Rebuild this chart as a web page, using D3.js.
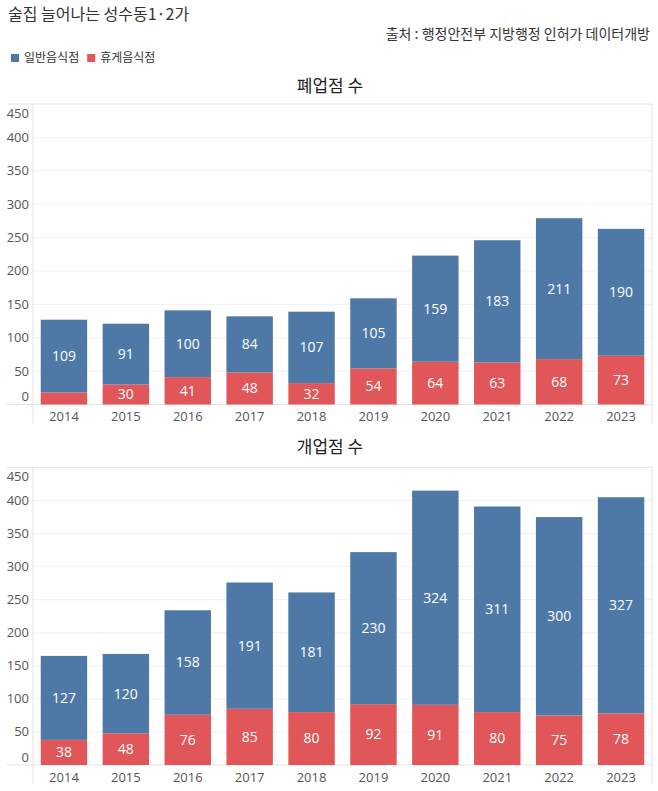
<!DOCTYPE html>
<html>
<head>
<meta charset="utf-8">
<script src="https://cdn.jsdelivr.net/npm/d3@7"></script>
<style>
  body { margin: 0; background: #fff; }
  svg text { font-family: "Noto Sans CJK KR", "Noto Sans", sans-serif; }
  .num { font-family: "Open Sans", "Noto Sans", sans-serif; }
</style>
</head>
<body>
<div id="chart"></div>
<script>
const years = ["2014","2015","2016","2017","2018","2019","2020","2021","2022","2023"];
const seriesNames = ["일반음식점", "휴게음식점"];
const closedGeneral = [109, 91, 100, 84, 107, 105, 159, 183, 211, 190];
const closedRest    = [18, 30, 41, 48, 32, 54, 64, 63, 68, 73];
const openedGeneral = [127, 120, 158, 191, 181, 230, 324, 311, 300, 327];
const openedRest    = [38, 48, 76, 85, 80, 92, 91, 80, 75, 78];
const yTicks = [0, 50, 100, 150, 200, 250, 300, 350, 400, 450];

const width = 658, height = 791;
const colors = { "일반음식점": "#4e79a7", "휴게음식점": "#e15759" };

const svg = d3.select("#chart").append("svg")
  .attr("width", width)
  .attr("height", height);

// header
svg.append("text")
  .attr("x", 8).attr("y", 20)
  .attr("font-size", 16).attr("fill", "#333")
  .text("술집 늘어나는 성수동1·2가");

svg.append("text")
  .attr("x", 650).attr("y", 39)
  .attr("text-anchor", "end")
  .attr("font-size", 14).attr("fill", "#333")
  .text("출처 : 행정안전부 지방행정 인허가 데이터개방");

// legend
const legend = svg.append("g").attr("transform", "translate(11,54)");
let lx = 0;
seriesNames.forEach(name => {
  legend.append("rect").attr("x", lx).attr("y", 0).attr("width", 8).attr("height", 8)
    .attr("fill", colors[name]);
  const t = legend.append("text").attr("x", lx + 13).attr("y", 8)
    .attr("font-size", 12).attr("fill", "#333").text(name);
  lx += 13 + t.node().getComputedTextLength() + 8;
});

const x = d3.scaleBand()
  .domain(years)
  .range([33, 652])
  .paddingInner(0.25)
  .paddingOuter(0.125);

function drawChart(title, titleY, top, bottom, general, rest) {
  const g = svg.append("g");

  g.append("text")
    .attr("x", 330).attr("y", titleY)
    .attr("text-anchor", "middle")
    .attr("font-size", 17).attr("fill", "#222")
    .text(title);

  const y = d3.scaleLinear().domain([0, 450]).range([bottom, top]);

  // gridlines
  g.selectAll(".grid").data(yTicks.slice(1, -1)).enter()
    .append("line")
    .attr("x1", 33).attr("x2", 652)
    .attr("y1", d => y(d)).attr("y2", d => y(d))
    .attr("stroke", "#f0f0f0");

  // frame
  g.append("line").attr("x1", 7).attr("x2", 652).attr("y1", top).attr("y2", top)
    .attr("stroke", "#e3e3e3");
  g.append("line").attr("x1", 7).attr("x2", 652).attr("y1", bottom).attr("y2", bottom)
    .attr("stroke", "#e3e3e3");
  g.append("line").attr("x1", 33).attr("x2", 33).attr("y1", top).attr("y2", bottom + 19)
    .attr("stroke", "#e3e3e3");
  g.append("line").attr("x1", 652).attr("x2", 652).attr("y1", top).attr("y2", bottom + 19)
    .attr("stroke", "#e3e3e3");

  // y axis labels, first/last pulled inside the pane
  g.selectAll(".ylab").data(yTicks).enter()
    .append("text")
    .attr("class", "num")
    .attr("x", 29)
    .attr("y", d => Math.min(bottom - 8, Math.max(top + 9, y(d))))
    .attr("dy", "0.35em")
    .attr("text-anchor", "end")
    .attr("font-size", 13).attr("fill", "#555")
    .text(d => d);

  // x axis labels
  g.selectAll(".xlab").data(years).enter()
    .append("text")
    .attr("class", "num")
    .attr("x", d => x(d) + x.bandwidth() / 2)
    .attr("y", bottom + 12)
    .attr("dy", "0.35em")
    .attr("text-anchor", "middle")
    .attr("font-size", 13).attr("fill", "#555")
    .text(d => d);

  const rows = years.map((yr, i) => ({ year: yr, rest: rest[i], general: general[i] }));
  const stack = d3.stack().keys(["rest", "general"])(rows);
  const keyName = { rest: "휴게음식점", general: "일반음식점" };

  stack.forEach(layer => {
    const lg = g.append("g");
    lg.selectAll("rect").data(layer).enter()
      .append("rect")
      .attr("x", d => x(d.data.year))
      .attr("width", x.bandwidth())
      .attr("y", d => y(d[1]))
      .attr("height", d => y(d[0]) - y(d[1]))
      .attr("fill", colors[keyName[layer.key]]);

    lg.selectAll("text").data(layer.filter(d => y(d[0]) - y(d[1]) > 15)).enter()
      .append("text")
      .attr("class", "num")
      .attr("x", d => x(d.data.year) + x.bandwidth() / 2)
      .attr("y", d => (y(d[0]) + y(d[1])) / 2)
      .attr("dy", "0.35em")
      .attr("text-anchor", "middle")
      .attr("font-size", 14).attr("fill", "#fff")
      .text(d => d[1] - d[0]);
  });
}

drawChart("폐업점 수", 92, 104, 404.5, closedGeneral, closedRest);
drawChart("개업점 수", 453, 467.5, 765, openedGeneral, openedRest);
</script>
</body>
</html>
